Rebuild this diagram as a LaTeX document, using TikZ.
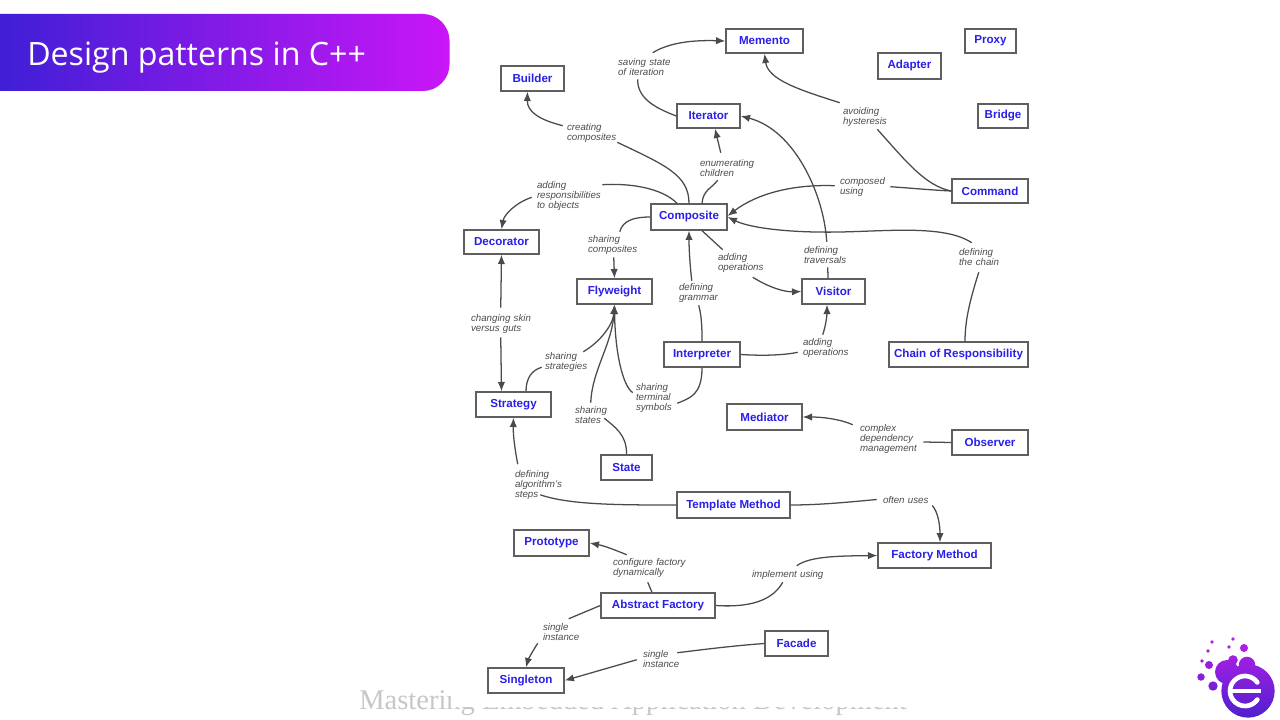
\documentclass[tikz,border=0pt]{standalone}
\usepackage{fontspec}
\setmainfont{Liberation Sans}
\newfontfamily\titlefont{Open Sans}
\newfontfamily\footfont{Liberation Serif}
\usetikzlibrary{arrows.meta,shadows}
\definecolor{edge}{HTML}{4A4A4A}
\definecolor{boxline}{HTML}{5F5F5F}
\definecolor{patblue}{HTML}{2A1FE8}
\definecolor{labgray}{HTML}{4D4D4D}
\definecolor{barleft}{HTML}{3F1FD6}
\definecolor{barright}{HTML}{C916F7}
\definecolor{logotop}{HTML}{BB1FEA}
\definecolor{logomid}{HTML}{A01EE6}
\definecolor{logobot}{HTML}{4F20CC}
\tikzset{
  pat/.style={draw=boxline,line width=1pt,fill=white,inner sep=0pt,
    text=patblue,font=\fontsize{8.7}{10}\selectfont\bfseries,
    drop shadow={shadow xshift=0.3pt,shadow yshift=-0.8pt,fill=black!30,opacity=.6}},
  lab/.style={inner sep=0pt,align=left,text=labgray,
    font=\fontsize{7.3}{7.5}\selectfont\itshape},
  conn/.style={draw=edge,line width=0.95pt},
  arr/.style={conn,-{Latex[length=7pt,width=5.5pt]}}
}
\newcommand{\bx}[6]{%
  \pgfmathsetmacro\bw{(#4-#2)*0.75}%
  \pgfmathsetmacro\bh{(#5-#3)*0.75}%
  \node[pat,minimum width=\bw pt,minimum height=\bh pt] (#1) at ({(#2+#4)/2},{(#3+#5)/2}) {#6};}
\newcommand{\lb}[6]{%
  \pgfmathsetmacro\bw{(#4-#2)*0.75}%
  \pgfmathsetmacro\bh{(#5-#3)*0.75}%
  \node[lab,text width=\bw pt,minimum height=\bh pt] (#1) at ({(#2+#4)/2},{(#3+#5)/2}) {#6};}
\begin{document}
\begin{tikzpicture}[x=0.75pt,y=-0.75pt]
\useasboundingbox (0,0) rectangle (1280,720);
\fill[white] (0,0) rectangle (1280,720);
% title bar
\shade[left color=barleft,right color=barright] (0,14) [rounded corners=20pt] -- (449.5,14) -- (449.5,91) [sharp corners] -- (0,91) -- cycle;
\node[anchor=base west,inner sep=0pt,text=white,font=\fontsize{24.1}{26}\selectfont\titlefont] (title) at (27,66) {Design patterns in C++};
% footer, mostly hidden behind the figure
\node[anchor=base west,inner sep=0pt,text=black!22,font=\fontsize{21.4}{24}\selectfont\footfont] (footer) at (359,709) {Mastering Embedded Application Development};
\fill[white] (451,0) rectangle (1100,707);
% logo
\shade[top color=logotop,middle color=logomid,bottom color=logobot,nonzero rule]
  (1248,691) circle[radius=20pt]
  (1227,672) circle[radius=9pt]
  (1247,665) circle[radius=6.2pt]
  (1233,660) circle[radius=3.6pt]
  (1244,648) circle[radius=3pt]
  (1229,647) circle[radius=1.4pt]
  (1233,639) circle[radius=1.4pt]
  (1212,642) circle[radius=1.4pt]
  (1208,651) circle[radius=1.4pt]
  (1202,661) circle[radius=1.4pt]
  (1209,665) circle[radius=3pt]
  (1201,677) circle[radius=2.8pt]
  (1213,686) circle[radius=3.5pt];
\draw[white,line width=3.5pt,line cap=round] (1257.3,682.4) arc[start angle=35,end angle=325,radius=11.25pt];
\draw[white,line width=3.5pt] (1232,691) -- (1261,691);
% pattern boxes
\bx{memento}{726}{29}{803}{53}{Memento}
\bx{builder}{501}{66}{564}{91}{Builder}
\bx{proxy}{965}{29}{1016}{53}{Proxy}
\bx{adapter}{878}{53}{941}{79}{Adapter}
\bx{bridge}{978}{104}{1028}{128}{Bridge}
\bx{iterator}{677}{104}{740}{128}{Iterator}
\bx{command}{952}{179}{1028}{203}{Command}
\bx{composite}{651}{204}{727}{230}{Composite}
\bx{decorator}{464}{230}{539}{254}{Decorator}
\bx{flyweight}{577}{279}{652}{304}{Flyweight}
\bx{visitor}{802}{279}{865}{304}{Visitor}
\bx{interpreter}{664}{342}{740}{367}{Interpreter}
\bx{chain}{889}{342}{1028}{367}{Chain of Responsibility}
\bx{strategy}{476}{392}{551}{417}{Strategy}
\bx{mediator}{727}{404}{802}{430}{Mediator}
\bx{observer}{952}{430}{1028}{455}{Observer}
\bx{state}{601}{455}{652}{480}{State}
\bx{template}{677}{492}{790}{518}{Template Method}
\bx{prototype}{514}{530}{589}{556}{Prototype}
\bx{factory}{878}{543}{991}{568}{Factory Method}
\bx{abstract}{601}{593}{715}{618}{Abstract Factory}
\bx{facade}{765}{631}{828}{656}{Facade}
\bx{singleton}{488}{668}{564}{693}{Singleton}
% labels
\lb{lCreate}{567}{123}{617}{142}{creating\\composites}
\lb{lAddResp}{537}{181}{601}{210}{adding\\responsibilities\\to objects}
\lb{lSave}{618}{57}{676}{77}{saving state\\of iteration}
\lb{lEnum}{700}{158}{755}{178}{enumerating\\children}
\lb{lShareC}{588}{235}{639}{254}{sharing\\composites}
\lb{lGram}{679}{283}{719}{303}{defining\\grammar}
\lb{lAddOpA}{718}{252}{765}{274}{adding\\operations}
\lb{lAddOpB}{803}{338}{850}{357}{adding\\operations}
\lb{lTrav}{804}{245}{847}{265}{defining\\traversals}
\lb{lComp}{840}{177}{887}{197}{composed\\using}
\lb{lChain}{959}{246}{1000}{268}{defining\\the chain}
\lb{lHyst}{843}{107}{888}{127}{avoiding\\hysteresis}
\lb{lSkin}{471}{314}{542}{334}{changing skin\\versus guts}
\lb{lStrat}{545}{352}{589}{372}{sharing\\strategies}
\lb{lStates}{575}{405}{608}{425}{sharing\\states}
\lb{lSym}{636}{383}{673}{413}{sharing\\terminal\\symbols}
\lb{lMgmt}{860}{424}{918}{454}{complex\\dependency\\management}
\lb{lAlgo}{515}{471}{561}{499}{defining\\algorithm's\\steps}
\lb{lOften}{883}{495}{929}{506}{often uses}
\lb{lConfig}{613}{558}{687}{578}{configure factory\\dynamically}
\lb{lImpl}{752}{569}{825}{580}{implement using}
\lb{lSingA}{543}{622}{580}{642}{single\\instance}
\lb{lSingB}{643}{649}{680}{669}{single\\instance}
% connectors
\draw[conn] (composite.north) .. controls (689,175) and (665,165) .. (lCreate.south east);
\draw[arr] ([shift={(-4,3)}]lCreate.north west) .. controls (540,120) and (527,112) .. ([shift={(-5,0)}]builder.south);
\draw[conn] ([shift={(-12,0)}]composite.north) .. controls (662,188) and (630,183) .. ([shift={(1,4)}]lAddResp.north east);
\draw[arr] ([shift={(-5,-13)}]lAddResp.south west) .. controls (515,203) and (504,215) .. (decorator.north);
\draw[conn] (iterator.west) .. controls (655,108) and (637,98) .. ([shift={(20,2)}]lSave.south west);
\draw[arr] ([shift={(35,-4)}]lSave.north west) .. controls (670,42) and (695,40) .. (memento.west);
\draw[conn] ([shift={(13,0)}]composite.north) .. controls (703,190) and (712,188) .. ([shift={(18,2)}]lEnum.south west);
\draw[arr] ([shift={(21,-5)}]lEnum.north west) -- ([shift={(6.5,0)}]iterator.south);
\draw[conn] (composite.west) .. controls (635,217) and (623,220) .. ([shift={(32,-3)}]lShareC.north west);
\draw[arr] ([shift={(26,3)}]lShareC.south west) -- (flyweight.north);
\draw[conn] (interpreter.north) .. controls (702,330) and (702,318) .. ([shift={(20,2)}]lGram.south west);
\draw[arr] ([shift={(13,-2)}]lGram.north west) .. controls (690,265) and (689,250) .. (composite.south);
\draw[conn] ([shift={(13,0)}]composite.south) -- ([shift={(5,-2)}]lAddOpA.north west);
\draw[arr] ([shift={(35,3)}]lAddOpA.south west) .. controls (770,288) and (785,292) .. (visitor.west);
\draw[conn] (interpreter.east) .. controls (765,356) and (785,355) .. ([shift={(-5,-5)}]lAddOpB.south west);
\draw[arr] ([shift={(20,-3)}]lAddOpB.north west) .. controls (826,325) and (827,315) .. ([shift={(-6.5,0)}]visitor.south);
\draw[conn] ([shift={(-5.5,0)}]visitor.north) -- ([shift={(24,2)}]lTrav.south west);
\draw[arr] ([shift={(23,-3)}]lTrav.north west) .. controls (824,195) and (795,130) .. (iterator.east);
\draw[conn] (command.west) .. controls (930,190) and (910,188) .. ([shift={(3,10)}]lComp.north east);
\draw[arr] ([shift={(-5,9)}]lComp.north west) .. controls (790,184) and (755,195) .. ([shift={(0,-1)}]composite.east);
\draw[conn] ([shift={(6.5,0)}]chain.north) .. controls (965,320) and (970,300) .. ([shift={(20,4)}]lChain.south west);
\draw[arr] ([shift={(13,-3)}]lChain.north west) .. controls (945,225) and (890,231) .. (840,232) .. controls (790,233) and (750,228) .. (composite.east);
\draw[conn] (command.west) .. controls (925,186) and (905,160) .. ([shift={(-11,2)}]lHyst.south east);
\draw[arr] ([shift={(-3,-4)}]lHyst.north west) .. controls (800,90) and (768,80) .. (memento.south);
\draw[arr] ([shift={(30,-6)}]lSkin.north west) -- (decorator.south);
\draw[arr] ([shift={(30,3)}]lSkin.south west) -- ([shift={(-12,0)}]strategy.north);
\draw[conn] ([shift={(12.5,0)}]strategy.north) .. controls (526,378) and (532,370) .. ([shift={(-3,-5)}]lStrat.south west);
\draw[arr] ([shift={(-6,0)}]lStrat.north east) .. controls (600,342) and (613,325) .. (flyweight.south);
\draw[conn] (state.north) .. controls (627,435) and (615,427) .. ([shift={(-4,-7)}]lStates.south east);
\draw[arr] ([shift={(16,-2)}]lStates.north west) .. controls (592,370) and (612,345) .. (flyweight.south);
\draw[conn] (interpreter.south) .. controls (702,395) and (690,398) .. ([shift={(4,-10)}]lSym.south east);
\draw[arr] ([shift={(-3,10)}]lSym.north west) .. controls (622,385) and (615,350) .. (flyweight.south);
\draw[conn] (observer.west) -- ([shift={(5,3)}]lMgmt.east);
\draw[arr] ([shift={(-7,1)}]lMgmt.north west) .. controls (840,419) and (822,417) .. (mediator.east);
\draw[conn] (template.west) .. controls (620,505) and (570,505) .. ([shift={(-21,-5)}]lAlgo.south east);
\draw[arr] ([shift={(3,-6)}]lAlgo.north west) .. controls (515,450) and (513,435) .. (strategy.south);
\draw[conn] (template.east) .. controls (820,505) and (850,502) .. ([shift={(-6,-1)}]lOften.west);
\draw[arr] ([shift={(3,5)}]lOften.east) .. controls (938,512) and (940,525) .. ([shift={(5.5,0)}]factory.north);
\draw[conn] ([shift={(-6,0)}]abstract.north) -- ([shift={(35,4)}]lConfig.south west);
\draw[arr] ([shift={(14,-3)}]lConfig.north west) .. controls (615,550) and (605,546) .. (prototype.east);
\draw[conn] (abstract.east) .. controls (740,607) and (770,605) .. ([shift={(31,2)}]lImpl.south west);
\draw[arr] ([shift={(45,-3)}]lImpl.north west) .. controls (810,556) and (840,556) .. (factory.west);
\draw[conn] (abstract.west) -- ([shift={(26,-3)}]lSingA.north west);
\draw[arr] ([shift={(-5,1)}]lSingA.south west) .. controls (532,652) and (528,660) .. (singleton.north);
\draw[conn] (facade.west) .. controls (730,646) and (700,650) .. ([shift={(-3,4)}]lSingB.north east);
\draw[arr] ([shift={(-6,11)}]lSingB.north west) -- (singleton.east);
\end{tikzpicture}
\end{document}
